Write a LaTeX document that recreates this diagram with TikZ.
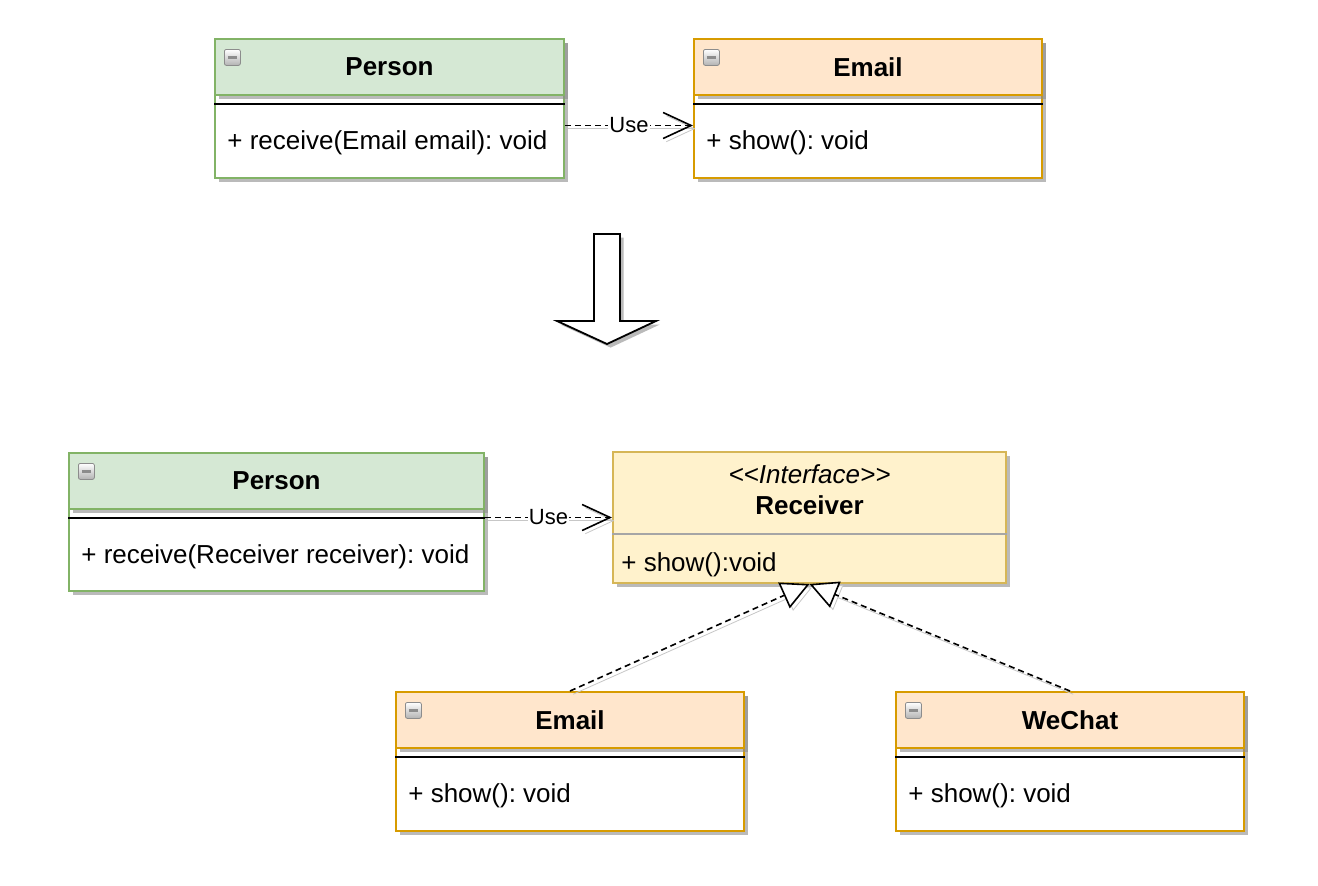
\documentclass[tikz,border=0pt]{standalone}
\usepackage{fontspec}
\setmainfont{Liberation Sans}
\frenchspacing
\usetikzlibrary{positioning, arrows.meta, shadows}
\definecolor{greenfill}{HTML}{D5E8D4}
\definecolor{greenline}{HTML}{82B366}
\definecolor{orangefill}{HTML}{FFE6CC}
\definecolor{orangeline}{HTML}{D79B00}
\definecolor{yellowfill}{HTML}{FFF2CC}
\definecolor{yellowline}{HTML}{D6B656}
\tikzset{
        x=0.5pt, y=-0.5pt, % one unit is one pixel of the picture
        every node/.style={font=\fontsize{13}{15.5}\selectfont},
        boxshadow/.style={drop shadow={shadow xshift=1.8pt, shadow yshift=-1.8pt, fill=black!45, opacity=0.6}},
        edgeshadow/.style={preaction={draw=black!22, transform canvas={shift={(1.6pt,-1.6pt)}}}},
        classbox/.style={draw=#1, fill=white, line width=1pt, inner sep=0pt, anchor=north west, boxshadow},
        classhead/.style 2 args={draw=#1, fill=#2, line width=1pt, inner sep=0pt, anchor=north west,
                minimum height=28pt, font=\fontsize{13}{15.5}\selectfont\bfseries, boxshadow},
        method/.style={inner sep=0pt, anchor=west},
        seprule/.style={line width=0.75pt},
        minbtn/.style={draw=black!45, top color=white, bottom color=black!30, rounded corners=1pt,
                minimum width=8pt, minimum height=8pt, inner sep=0pt, anchor=north west,
                path picture={\draw[line width=1.1pt] ([xshift=-2.3pt]path picture bounding box.center)
                        -- ([xshift=2.3pt]path picture bounding box.center);}},
        dep/.style={dash pattern=on 3pt off 2pt, line width=0.8pt, edgeshadow,
                -{Straight Barb[length=14pt, width=13pt]}},
        real/.style={dash pattern=on 3pt off 2pt, line width=0.8pt, edgeshadow,
                -{Triangle[open, length=14pt, width=14pt, fill=white]}},
        edgelabel/.style={fill=white, inner sep=0.5pt, font=\fontsize{11}{13}\selectfont}
        }

\begin{document}
\begin{tikzpicture}
        \fill[white] (0,0) rectangle (1318,885);
        \useasboundingbox (0,0) rectangle (1318,885);

        % before
        \node[classbox=greenline, minimum width=174.5pt, minimum height=69.5pt] (personA) at (214,38) {};
        \node[classhead={greenline}{greenfill}, minimum width=174.5pt] (personAh) at (personA.north west) {Person};
        \draw[seprule] ([yshift=-4pt]personAh.south west) -- ([yshift=-4pt]personAh.south east);
        \node[minbtn] at ([shift={(5pt,-5.5pt)}]personAh.north west) {};
        \node[method] (personAm) at ([shift={(6.5pt,18pt)}]personA.south west) {+ receive(Email email): void};

        \node[classbox=orangeline, minimum width=174pt, minimum height=69.5pt] (emailA) at (693,38) {};
        \node[classhead={orangeline}{orangefill}, minimum width=174pt] (emailAh) at (emailA.north west) {Email};
        \draw[seprule] ([yshift=-4pt]emailAh.south west) -- ([yshift=-4pt]emailAh.south east);
        \node[minbtn] at ([shift={(5pt,-5.5pt)}]emailAh.north west) {};
        \node[method] (emailAm) at ([shift={(6.5pt,18pt)}]emailA.south west) {+ show(): void};

        \draw[dep] ([yshift=-8.5pt]personA.east) -- node[edgelabel]{Use} ([yshift=-8.5pt]emailA.west);

        % big arrow
        \draw[fill=white, line width=0.9pt, boxshadow] (594,234) -- (620,234) -- (620,321) -- (656,321)
                -- (607,344) -- (557,321) -- (594,321) -- cycle;

        % after
        \node[classbox=greenline, minimum width=207.5pt, minimum height=69pt] (personB) at (68,452) {};
        \node[classhead={greenline}{greenfill}, minimum width=207.5pt] (personBh) at (personB.north west) {Person};
        \draw[seprule] ([yshift=-4pt]personBh.south west) -- ([yshift=-4pt]personBh.south east);
        \node[minbtn] at ([shift={(5pt,-5.5pt)}]personBh.north west) {};
        \node[method] (personBm) at ([shift={(6.5pt,17.5pt)}]personB.south west) {+ receive(Receiver receiver): void};

        \node[classbox=yellowline, fill=yellowfill, minimum width=196.5pt, minimum height=65.5pt] (receiver) at (612,451) {};
        \node[align=center, inner sep=0pt] (receivert) at ([yshift=-19.5pt]receiver.north)
                {\textit{<{}<Interface>{}>}\\\textbf{Receiver}};
        \draw[black!35, line width=0.8pt] ([yshift=-41.5pt]receiver.north west) -- ([yshift=-41.5pt]receiver.north east);
        \node[method] (receiverm) at ([shift={(4.5pt,9.5pt)}]receiver.south west) {+ show():void};

        \draw[dep] (personB.east |- receiver.west) -- node[edgelabel]{Use} (receiver.west);

        \node[classbox=orangeline, minimum width=174pt, minimum height=69.5pt] (emailB) at (395,691) {};
        \node[classhead={orangeline}{orangefill}, minimum width=174pt] (emailBh) at (emailB.north west) {Email};
        \draw[seprule] ([yshift=-4pt]emailBh.south west) -- ([yshift=-4pt]emailBh.south east);
        \node[minbtn] at ([shift={(5pt,-5.5pt)}]emailBh.north west) {};
        \node[method] (emailBm) at ([shift={(6.5pt,18pt)}]emailB.south west) {+ show(): void};

        \node[classbox=orangeline, minimum width=174pt, minimum height=69.5pt] (wechat) at (895,691) {};
        \node[classhead={orangeline}{orangefill}, minimum width=174pt] (wechath) at (wechat.north west) {WeChat};
        \draw[seprule] ([yshift=-4pt]wechath.south west) -- ([yshift=-4pt]wechath.south east);
        \node[minbtn] at ([shift={(5pt,-5.5pt)}]wechath.north west) {};
        \node[method] (wechatm) at ([shift={(6.5pt,18pt)}]wechat.south west) {+ show(): void};

        \draw[real] (emailB.north) -- (receiver.south);
        \draw[real] (wechat.north) -- (receiver.south);
\end{tikzpicture}
\end{document}
